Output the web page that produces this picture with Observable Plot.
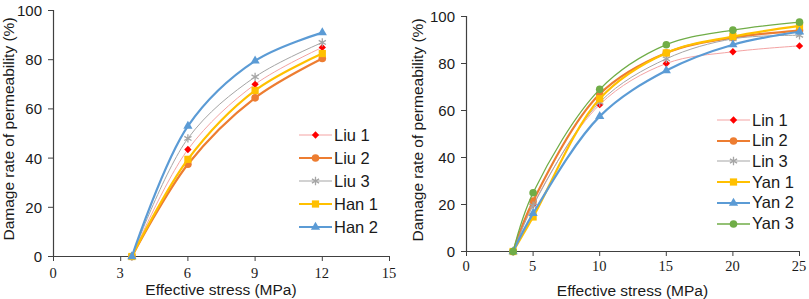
<!DOCTYPE html>
<html><head><meta charset="utf-8">
<script src="https://cdn.jsdelivr.net/npm/d3@7"></script>
<script src="https://cdn.jsdelivr.net/npm/@observablehq/plot@0.6"></script>
<style>
body{margin:0;background:#fff;}
#wrap{position:relative;width:809px;height:299px;overflow:hidden;font-family:"Liberation Sans",Arial,sans-serif;color:#1a1a1a;}
.panel{position:absolute;top:0;}
.title{position:absolute;font-size:15.5px;white-space:nowrap;line-height:1;}
.ytitle{transform:translate(-50%,-50%) rotate(-90deg);}
.xtitle{transform:translateX(-50%);}
.ylab{position:absolute;font-size:15px;line-height:1;white-space:nowrap;transform:translate(-100%,-50%);font-family:"Liberation Sans",Arial,sans-serif;}
.xlab{position:absolute;font-size:14.5px;line-height:1;white-space:nowrap;transform:translate(-50%,-50%);font-family:"Liberation Serif","Times New Roman",serif;}
.item{position:absolute;display:flex;align-items:center;height:16px;font-size:16.5px;white-space:nowrap;}
.item svg{display:block;margin-right:2px;}
</style>
</head><body>
<div id="wrap"></div>
<script>
// ---- data ----
const yTicks = [0, 20, 40, 60, 80, 100];
const leftXTicks = [0, 3, 6, 9, 12, 15];
const rightXTicks = [0, 5, 10, 15, 20, 25];

const leftStress = [3.5, 6, 9, 12];
const liu1 = [0, 43.5, 70, 85];
const liu2 = [0, 37.5, 64.5, 80.5];
const liu3 = [0, 48, 73, 87];
const han1 = [0, 39.5, 67.5, 82.5];
const han2 = [0, 53, 79.5, 91];
const leftNames = ["Liu 1", "Liu 2", "Liu 3", "Han 1", "Han 2"];

const rightStress = [3.5, 5, 10, 15, 20, 25];
const lin1 = [0, 20, 62.5, 80, 85, 87.5];
const lin2 = [0, 21.5, 67, 84.5, 91, 94];
const lin3 = [0, 19.5, 63.5, 82, 90.5, 92];
const yan1 = [0, 14.7, 65, 84.5, 91.5, 96];
const yan2 = [0, 16.2, 57.5, 77, 88, 93.5];
const yan3 = [0, 25, 69, 88, 94.2, 97.6];
const rightNames = ["Lin 1", "Lin 2", "Lin 3", "Yan 1", "Yan 2", "Yan 3"];

const xTitle = "Effective stress (MPa)";
const yTitle = "Damage rate of permeability (%)";

// ---- styles ----
const S = {
  red:   {line: "#F4A3A3", w: 1,   sym: "diamond2",  mk: "#FF0000", r: 3.3, stroke: false},
  orange:{line: "#ED7D31", w: 2.2, sym: "circle",    mk: "#ED7D31", r: 3.8, stroke: false},
  gray:  {line: "#A5A5A5", w: 1,   sym: "asterisk",  mk: "#A5A5A5", r: 3.9, stroke: true},
  yellow:{line: "#FFC000", w: 2.2, sym: "square2",   mk: "#FFC000", r: 4.6, stroke: false},
  blue:  {line: "#5B9BD5", w: 2.2, sym: "triangle2", mk: "#5B9BD5", r: 4.4, stroke: false},
  green: {line: "#70AD47", w: 1.3, sym: "circle",    mk: "#70AD47", r: 3.8, stroke: false}
};
const leftStyles = [S.red, S.orange, S.gray, S.yellow, S.blue];
const rightStyles = [S.red, S.orange, S.gray, S.yellow, S.blue, S.green];
const d3sym = {diamond2: d3.symbolDiamond2, circle: d3.symbolCircle, asterisk: d3.symbolAsterisk, square2: d3.symbolSquare2, triangle2: d3.symbolTriangle2};

const wrap = document.getElementById("wrap");

function addDiv(cls, text, left, top) {
  const d = document.createElement("div");
  d.className = cls;
  d.textContent = text;
  d.style.left = left + "px";
  d.style.top = top + "px";
  wrap.appendChild(d);
  return d;
}

function makePanel(cfg) {
  const x0 = cfg.xTicks[0];
  const marks = [
    Plot.axisY({ticks: yTicks, tickSize: 5, tickFormat: () => "", label: null, stroke: "#404040"}),
    Plot.axisX({ticks: cfg.xTicks, tickSize: 5, tickFormat: () => "", label: null, stroke: "#404040"}),
    Plot.ruleX([x0], {stroke: "#404040", strokeWidth: 1.2}),
    Plot.ruleY([0], {stroke: "#404040", strokeWidth: 1.2})
  ];
  cfg.series.forEach((vals, k) => {
    const st = cfg.styles[k];
    const rows = cfg.xs.map((x, i) => ({x, y: vals[i]}));
    marks.push(Plot.line(rows, {x: "x", y: "y", stroke: st.line, strokeWidth: st.w, curve: "catmull-rom"}));
    marks.push(Plot.dot(rows, st.stroke
      ? {x: "x", y: "y", symbol: st.sym, stroke: st.mk, strokeWidth: 1.3, r: st.r}
      : {x: "x", y: "y", symbol: st.sym, fill: st.mk, stroke: "none", r: st.r}));
  });
  const svg = Plot.plot({
    width: cfg.width, height: 299,
    marginLeft: cfg.ml, marginRight: cfg.mr, marginTop: cfg.mt, marginBottom: cfg.mb,
    x: {domain: [x0, cfg.xTicks[cfg.xTicks.length - 1]]},
    y: {domain: [0, 100]},
    style: {background: "white", overflow: "visible", maxWidth: "none"},
    marks
  });
  const holder = document.createElement("div");
  holder.className = "panel";
  holder.style.left = cfg.left + "px";
  holder.style.width = cfg.width + "px";
  holder.appendChild(svg);
  wrap.appendChild(holder);

  // tick labels placed with the plot's own scales
  const sx = svg.scale("x"), sy = svg.scale("y");
  const axisX = cfg.left + sx.apply(x0);
  const axisY = sy.apply(0);
  yTicks.forEach(v => addDiv("ylab", String(v), axisX - 11, sy.apply(v)));
  cfg.xTicks.forEach(v => addDiv("xlab", String(v), cfg.left + sx.apply(v), axisY + cfg.xLabDy));

  const plotL = cfg.left + cfg.ml, plotR = cfg.left + cfg.width - cfg.mr;
  const plotT = cfg.mt, plotB = 299 - cfg.mb;
  addDiv("title xtitle", xTitle, (plotL + plotR) / 2, cfg.xTitleTop);
  addDiv("title ytitle", yTitle, cfg.yTitleX, (plotT + plotB) / 2 - 4);

  // legend
  cfg.names.forEach((name, k) => {
    const st = cfg.styles[k];
    const it = document.createElement("div");
    it.className = "item";
    it.style.left = cfg.legX + "px";
    it.style.top = (cfg.legY + cfg.legDy * k - 8) + "px";
    const w = 33, h = 16;
    const sv = d3.create("svg").attr("width", w).attr("height", h);
    sv.append("line").attr("x1", 0).attr("x2", w).attr("y1", h / 2).attr("y2", h / 2)
      .attr("stroke", st.line).attr("stroke-width", st.w);
    const p = sv.append("path").attr("transform", `translate(${w / 2},${h / 2})`)
      .attr("d", d3.symbol(d3sym[st.sym], Math.PI * st.r * st.r)());
    if (st.stroke) p.attr("fill", "none").attr("stroke", st.mk).attr("stroke-width", 1.3);
    else p.attr("fill", st.mk);
    it.appendChild(sv.node());
    const tx = document.createElement("span");
    tx.textContent = name;
    it.appendChild(tx);
    wrap.appendChild(it);
  });
}

makePanel({
  left: 0, width: 400, ml: 53, mr: 11, mt: 10, mb: 43,
  xTicks: leftXTicks, xs: leftStress, xLabDy: 16.5,
  series: [liu1, liu2, liu3, han1, han2], styles: leftStyles, names: leftNames,
  xTitleTop: 281.5, yTitleX: 9, legX: 299, legY: 135, legDy: 23.1
});
makePanel({
  left: 400, width: 409, ml: 66, mr: 10, mt: 16, mb: 48,
  xTicks: rightXTicks, xs: rightStress, xLabDy: 15,
  series: [lin1, lin2, lin3, yan1, yan2, yan3], styles: rightStyles, names: rightNames,
  xTitleTop: 282.5, yTitleX: 418, legX: 717, legY: 120, legDy: 20.7
});
</script>
</body></html>
